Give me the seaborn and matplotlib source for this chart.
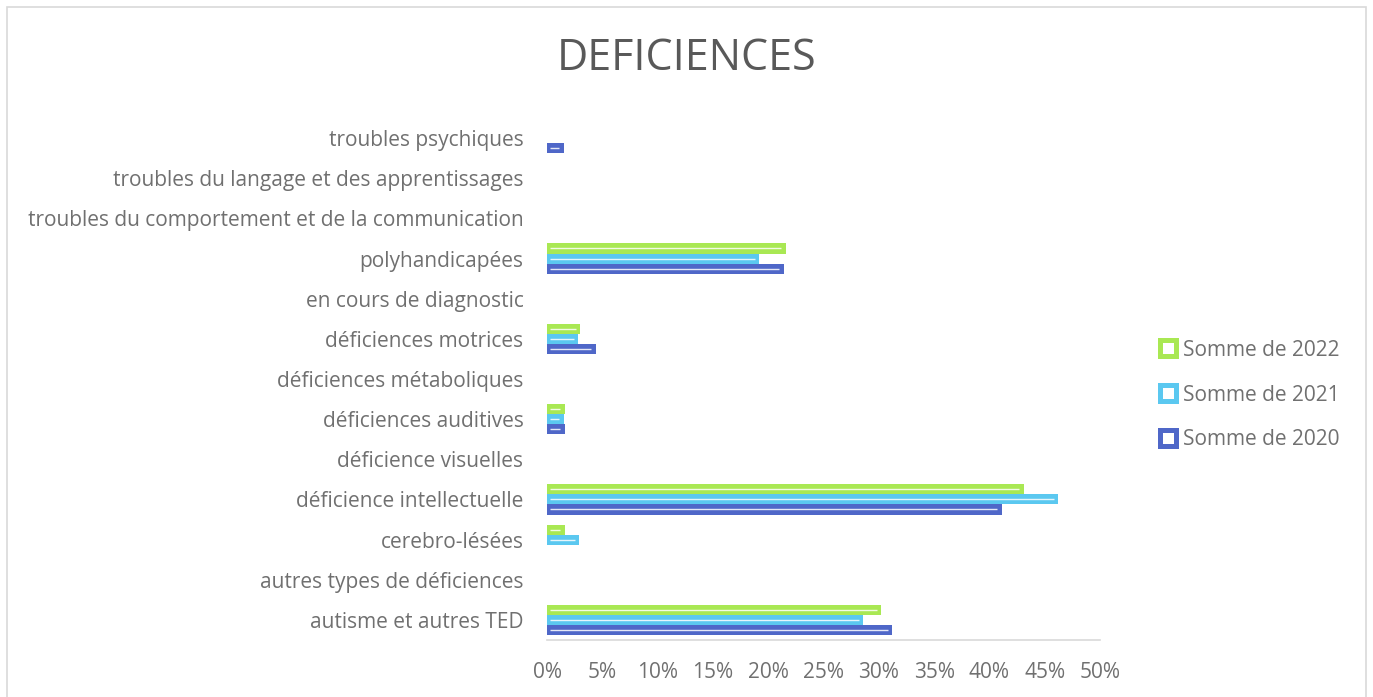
import matplotlib
matplotlib.use("Agg")
import matplotlib.pyplot as plt
import seaborn as sns
import pandas as pd
from matplotlib.lines import Line2D
from matplotlib.patches import Rectangle
from matplotlib.ticker import PercentFormatter

categories = [
    "troubles psychiques",
    "troubles du langage et des apprentissages",
    "troubles du comportement et de la communication",
    "polyhandicapées",
    "en cours de diagnostic",
    "déficiences motrices",
    "déficiences métaboliques",
    "déficiences auditives",
    "déficience visuelles",
    "déficience intellectuelle",
    "cerebro-lésées",
    "autres types de déficiences",
    "autisme et autres TED",
]
series_names = ["Somme de 2022", "Somme de 2021", "Somme de 2020"]
v2022 = [0.0, 0.0, 0.0, 21.6, 0.0, 3.0, 0.0, 1.6, 0.0, 43.1, 1.6, 0.0, 30.2]
v2021 = [0.0, 0.0, 0.0, 19.2, 0.0, 2.8, 0.0, 1.5, 0.0, 46.2, 2.9, 0.0, 28.6]
v2020 = [1.5, 0.0, 0.0, 21.4, 0.0, 4.4, 0.0, 1.6, 0.0, 41.1, 0.0, 0.0, 31.2]
colors = ["#A9E853", "#5BC8F0", "#4F67C8"]
xticks = [0, 5, 10, 15, 20, 25, 30, 35, 40, 45, 50]

rows = []
for name, vals in zip(series_names, [v2022, v2021, v2020]):
    for c, v in zip(categories, vals):
        rows.append({"cat": c, "serie": name, "val": v})
df = pd.DataFrame(rows)

sns.set_theme(style="white")
plt.rcParams["font.family"] = ["Open Sans", "DejaVu Sans"]

fig = plt.figure(figsize=(13.73, 6.97), dpi=100)
ax = fig.add_axes([547 / 1373, 1 - 640 / 697, (1100 - 547) / 1373, (640 - 118) / 697])

sns.barplot(data=df, y="cat", x="val", hue="serie", order=categories,
            hue_order=series_names, palette=colors, orient="h", width=0.75,
            ax=ax, legend=False, saturation=1, linewidth=0)
ax.set_ylim(len(categories) - 0.5, -0.5)

# thin white inner line in each bar
for p in ax.patches:
    w = p.get_width()
    if w > 0.3:
        y = p.get_y() + p.get_height() / 2
        x0 = p.get_x()
        ax.plot([x0 + 0.3, x0 + w - 0.4], [y, y], color="white", lw=1.0, alpha=0.85,
                solid_capstyle="butt")

ax.set_xlim(0, 50)
ax.set_xticks(xticks)
ax.xaxis.set_major_formatter(PercentFormatter(decimals=0))
ax.set_xlabel("")
ax.set_ylabel("")
for s in ["top", "right", "left"]:
    ax.spines[s].set_visible(False)
ax.spines["bottom"].set_color("#D9D9D9")
ax.spines["bottom"].set_linewidth(1.2)
ax.tick_params(axis="both", length=0, colors="#707070", labelsize=15)
ax.tick_params(axis="y", pad=17)
ax.tick_params(axis="x", pad=16)
ax.grid(False)

fig.text(0.5, 1 - 59 / 697, "DEFICIENCES", ha="center", va="center",
         fontsize=31, color="#595959")

handles = [Line2D([0], [0], marker="s", linestyle="none", markersize=11,
                  markerfacecolor="white", markeredgecolor=c, markeredgewidth=3.6)
           for c in colors]
leg = fig.legend(handles, series_names, loc="center left",
                 bbox_to_anchor=(1147 / 1373, 1 - 395 / 697), frameon=False,
                 fontsize=15, labelspacing=1.15, handletextpad=0.12,
                 handlelength=1.2, borderaxespad=0)
for t in leg.get_texts():
    t.set_color("#707070")

fig.patches.append(Rectangle((7 / 1373, -0.01), (1366 - 7) / 1373, 1 - 7 / 697 + 0.01,
                             transform=fig.transFigure, fill=False,
                             edgecolor="#D9D9D9", linewidth=1.2))

fig.savefig("out.png", dpi=100)
